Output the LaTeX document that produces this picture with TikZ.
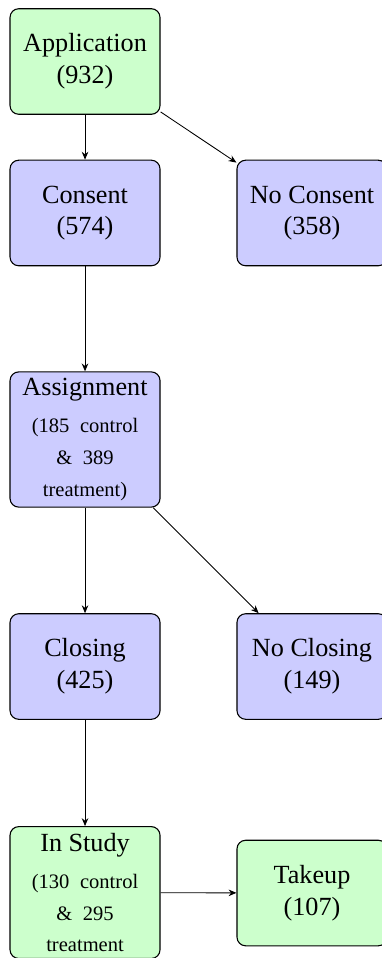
\documentclass[tikz,border=0pt]{standalone}
\usepackage{fontspec}
\setmainfont{Liberation Serif}
\usepackage{tikz}
\usetikzlibrary{arrows.meta,positioning}
\definecolor{Verde}{HTML}{CCFFCC}
\definecolor{Azul}{HTML}{CCCCFF}
\newcommand{\detail}[1]{{\fontsize{9.4}{14.5}\selectfont\spaceskip=4.9pt #1}}

\begin{document}
\begin{tikzpicture}[font=\fontsize{12}{14.5}\selectfont,>={Stealth[length=3.6pt,width=3pt]},
    stage/.style={draw,rounded corners=4pt,align=center,minimum width=2.415cm,
      minimum height=1.7cm,inner sep=3pt,line width=0.5pt},
    ok/.style={stage,fill=Verde},
    mid/.style={stage,fill=Azul}]
  \useasboundingbox (0,0) rectangle (6.150,-15.424);
  % stages
  \node[ok] (appl) at (1.369,-0.990) {Application\\(932)};
  \node[mid] (cons) at (1.369,-3.429) {Consent\\(574)};
  \node[mid] (nocons) at (5.023,-3.429) {No Consent\\(358)};
  \node[mid] (assign) at (1.369,-7.076)
    {Assignment\\[2.5pt]\detail{(185 control}\\\detail{\& 389}\\\detail{treatment)}};
  \node[mid] (clos) at (1.369,-10.731) {Closing\\(425)};
  \node[mid] (noclos) at (5.023,-10.731) {No Closing\\(149)};
  \node[ok] (study) at (1.369,-14.370)
    {In Study\\[2.5pt]\detail{(130 control}\\\detail{\& 295}\\\detail{treatment}};
  \node[ok] (takeup) at (5.023,-14.378) {Takeup\\(107)};
  % flows
  \draw[->] (appl) -- (cons);
  \draw[->] (appl) -- (nocons);
  \draw[->] (cons) -- (assign);
  \draw[->] (assign) -- (clos);
  \draw[->] (assign) -- (noclos);
  \draw[->] (clos) -- (study);
  \draw[->] (study) -- (takeup);
\end{tikzpicture}
\end{document}
